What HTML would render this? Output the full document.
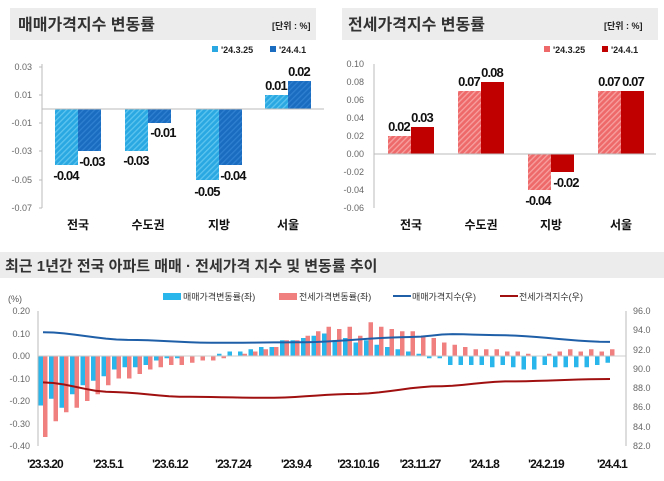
<!DOCTYPE html>
<html><head><meta charset="utf-8"><style>
body{margin:0;background:#fff;width:664px;height:476px;overflow:hidden;font-family:"Liberation Sans","Noto Sans CJK KR",sans-serif}
svg text{font-family:"Liberation Sans","Noto Sans CJK KR",sans-serif}
.v{letter-spacing:-0.9px}
</style></head><body>
<svg id="s" width="664" height="476" xmlns="http://www.w3.org/2000/svg">
<defs>
<pattern id="hb" width="4" height="4" patternUnits="userSpaceOnUse" patternTransform="rotate(45)"><rect width="4" height="4" fill="#29a8e2"/><rect width="1.3" height="4" fill="#5ec4ee"/></pattern>
<pattern id="hd" width="4" height="4" patternUnits="userSpaceOnUse" patternTransform="rotate(45)"><rect width="4" height="4" fill="#1a6cc0"/><rect width="1.3" height="4" fill="#2f80d0"/></pattern>
<pattern id="hr" width="4" height="4" patternUnits="userSpaceOnUse" patternTransform="rotate(45)"><rect width="4" height="4" fill="#ee6a6a"/><rect width="1.3" height="4" fill="#f7a0a0"/></pattern>
</defs>
<rect x="10" y="8" width="306" height="32" fill="#ececec"/>
<text x="18" y="30" font-size="16" font-weight="bold" fill="#333">매매가격지수 변동률</text>
<text x="272" y="29" font-size="9" font-weight="bold" fill="#222">[단위 : %]</text>
<rect x="212" y="46" width="6" height="6" fill="#29a8e2"/><text x="221" y="53" font-size="9" font-weight="bold" fill="#222">'24.3.25</text>
<rect x="270" y="46" width="6" height="6" fill="#1a6cc0"/><text x="279" y="53" font-size="9" font-weight="bold" fill="#222">'24.4.1</text>
<g font-size="9" fill="#666" text-anchor="end">
<text x="32" y="70">0.03</text><text x="32" y="98">0.01</text><text x="32" y="126">-0.01</text><text x="32" y="154">-0.03</text><text x="32" y="183">-0.05</text><text x="32" y="211">-0.07</text></g>
<line x1="42" y1="64" x2="42" y2="208" stroke="#bbb"/>
<g stroke="#bbb"><line x1="39" y1="67" x2="42" y2="67"/><line x1="39" y1="95" x2="42" y2="95"/><line x1="39" y1="123" x2="42" y2="123"/><line x1="39" y1="151" x2="42" y2="151"/><line x1="39" y1="180" x2="42" y2="180"/><line x1="39" y1="208" x2="42" y2="208"/></g>
<rect x="55" y="109" width="23" height="56" fill="url(#hb)"/><rect x="78" y="109" width="23" height="42" fill="url(#hd)"/>
<rect x="125" y="109" width="23" height="42" fill="url(#hb)"/><rect x="148" y="109" width="23" height="14" fill="url(#hd)"/>
<rect x="196" y="109" width="23" height="71" fill="url(#hb)"/><rect x="219" y="109" width="23" height="56" fill="url(#hd)"/>
<rect x="265" y="95" width="23" height="14" fill="url(#hb)"/><rect x="288" y="81" width="23" height="28" fill="url(#hd)"/>
<line x1="42" y1="109" x2="324" y2="109" stroke="#bbb"/>
<g class="v" font-size="13" font-weight="bold" fill="#111" text-anchor="middle">
<text x="66" y="180">-0.04</text><text x="92" y="166">-0.03</text>
<text x="136" y="165">-0.03</text><text x="163" y="137">-0.01</text>
<text x="207" y="196">-0.05</text><text x="233" y="180">-0.04</text>
<text x="276" y="90">0.01</text><text x="299" y="76">0.02</text></g>
<g font-size="12" font-weight="bold" fill="#111" text-anchor="middle">
<text x="78" y="229">전국</text><text x="148" y="229">수도권</text><text x="219" y="229">지방</text><text x="288" y="229">서울</text></g>
<rect x="342" y="8" width="316" height="32" fill="#ececec"/>
<text x="348" y="30" font-size="16" font-weight="bold" fill="#333">전세가격지수 변동률</text>
<text x="604" y="29" font-size="9" font-weight="bold" fill="#222">[단위 : %]</text>
<rect x="544" y="46" width="6" height="6" fill="#ee6a6a"/><text x="553" y="53" font-size="9" font-weight="bold" fill="#222">'24.3.25</text>
<rect x="602" y="46" width="6" height="6" fill="#c00000"/><text x="611" y="53" font-size="9" font-weight="bold" fill="#222">'24.4.1</text>
<g font-size="9" fill="#666" text-anchor="end">
<text x="364" y="67">0.10</text><text x="364" y="85">0.08</text><text x="364" y="103">0.06</text><text x="364" y="121">0.04</text><text x="364" y="139">0.02</text><text x="364" y="157">0.00</text><text x="364" y="175">-0.02</text><text x="364" y="193">-0.04</text><text x="364" y="211">-0.06</text></g>
<line x1="374" y1="64" x2="374" y2="208" stroke="#bbb"/>
<rect x="388" y="136" width="23" height="18" fill="url(#hr)"/><rect x="411" y="127" width="23" height="27" fill="#c00000"/>
<rect x="458" y="91" width="23" height="63" fill="url(#hr)"/><rect x="481" y="82" width="23" height="72" fill="#c00000"/>
<rect x="528" y="154" width="23" height="36" fill="url(#hr)"/><rect x="551" y="154" width="23" height="18" fill="#c00000"/>
<rect x="598" y="91" width="23" height="63" fill="url(#hr)"/><rect x="621" y="91" width="23" height="63" fill="#c00000"/>
<line x1="374" y1="154" x2="656" y2="154" stroke="#bbb"/>
<g class="v" font-size="13" font-weight="bold" fill="#111" text-anchor="middle">
<text x="399" y="131">0.02</text><text x="422" y="122">0.03</text>
<text x="469" y="86">0.07</text><text x="492" y="77">0.08</text>
<text x="538" y="205">-0.04</text><text x="566" y="187">-0.02</text>
<text x="609" y="86">0.07</text><text x="633" y="86">0.07</text></g>
<g font-size="12" font-weight="bold" fill="#111" text-anchor="middle">
<text x="411" y="229">전국</text><text x="481" y="229">수도권</text><text x="551" y="229">지방</text><text x="621" y="229">서울</text></g>
<rect x="0" y="252" width="664" height="26" fill="#ececec"/>
<text x="5" y="271" font-size="15" font-weight="bold" fill="#333">최근 1년간 전국 아파트 매매 · 전세가격 지수 및 변동률 추이</text>
<text x="8" y="302" font-size="9" fill="#555">(%)</text>
<rect x="163" y="293" width="18" height="7" fill="#29b6ea"/><text x="183" y="300" font-size="9" fill="#333">매매가격변동률(좌)</text>
<rect x="279" y="293" width="18" height="7" fill="#f08080"/><text x="299" y="300" font-size="9" fill="#333">전세가격변동률(좌)</text>
<line x1="393" y1="296" x2="411" y2="296" stroke="#1f5fa8" stroke-width="2"/><text x="412" y="300" font-size="9" fill="#333">매매가격지수(우)</text>
<line x1="500" y1="296" x2="518" y2="296" stroke="#a01010" stroke-width="2"/><text x="519" y="300" font-size="9" fill="#333">전세가격지수(우)</text>
<g font-size="9" fill="#666" text-anchor="end">
<text x="30" y="314">0.20</text><text x="30" y="337">0.10</text><text x="30" y="359">0.00</text><text x="30" y="382">-0.10</text><text x="30" y="404">-0.20</text><text x="30" y="427">-0.30</text><text x="30" y="449">-0.40</text></g>
<g font-size="9" fill="#666">
<text x="633" y="314">96.0</text><text x="633" y="333">94.0</text><text x="633" y="353">92.0</text><text x="633" y="372">90.0</text><text x="633" y="391">88.0</text><text x="633" y="410">86.0</text><text x="633" y="430">84.0</text><text x="633" y="449">82.0</text></g>
<line x1="38" y1="311" x2="38" y2="446" stroke="#bbb"/>
<line x1="626" y1="311" x2="626" y2="446" stroke="#bbb"/>
<g id="bars"></g>
<line x1="38" y1="356" x2="626" y2="356" stroke="#ccc"/>
<g id="lines"></g>
<g class="v" font-size="12" font-weight="bold" fill="#111" text-anchor="middle">
<text x="45" y="468">'23.3.20</text><text x="108" y="468">'23.5.1</text><text x="170" y="468">'23.6.12</text><text x="233" y="468">'23.7.24</text><text x="296" y="468">'23.9.4</text><text x="358" y="468">'23.10.16</text><text x="420" y="468">'23.11.27</text><text x="484" y="468">'24.1.8</text><text x="546" y="468">'24.2.19</text><text x="612" y="468">'24.4.1</text></g>
</svg>
<script>
var b=[-0.22,-0.19,-0.23,-0.17,-0.13,-0.11,-0.09,-0.06,-0.05,-0.05,-0.04,-0.02,-0.01,-0.01,0,0,0,0.01,0.02,0.02,0.03,0.04,0.04,0.07,0.07,0.08,0.09,0.10,0.07,0.08,0.06,0.07,0.05,0.04,0.03,0.02,0.01,-0.01,-0.01,-0.04,-0.04,-0.04,-0.04,-0.05,-0.04,-0.05,-0.06,-0.06,-0.04,-0.05,-0.05,-0.05,-0.05,-0.04,-0.03];
var r=[-0.36,-0.29,-0.25,-0.23,-0.20,-0.17,-0.13,-0.10,-0.10,-0.08,-0.06,-0.05,-0.04,-0.04,-0.03,-0.02,-0.02,-0.01,0,0.01,0.02,0.03,0.04,0.07,0.07,0.09,0.11,0.13,0.12,0.13,0.09,0.15,0.13,0.12,0.11,0.11,0.09,0.08,0.06,0.05,0.04,0.03,0.03,0.03,0.02,0.02,0.01,0,0.01,0.02,0.03,0.02,0.03,0.02,0.03];
var ns="http://www.w3.org/2000/svg",g=document.getElementById('bars'),L=document.getElementById('lines');
function X(i){return 43+i*10.5;}
function Y(v){return 356-v*225;}
function R(x,y,w,h,c){var e=document.createElementNS(ns,'rect');e.setAttribute('x',x);e.setAttribute('y',y);e.setAttribute('width',w);e.setAttribute('height',Math.max(h,0.5));e.setAttribute('fill',c);g.appendChild(e);}
for(var i=0;i<55;i++){var x=X(i);
 var v=b[i];R(x-4.5,Math.min(Y(v),356),4.5,Math.abs(v)*225,'#29b6ea');
 v=r[i];R(x,Math.min(Y(v),356),4.5,Math.abs(v)*225,'#f08080');}
function YR(v){return 311+(96-v)*(135/14);}
function sm(pts){var a=[];for(var i=0;i<55;i++){var t=i/54,k=0;while(k<pts.length-2&&pts[k+1][0]<t)k++;var p=pts[k],q=pts[k+1],u=(t-p[0])/(q[0]-p[0]);u=u*u*(3-2*u);a.push(p[1]+(q[1]-p[1])*u);}return a;}
var s=sm([[0,93.8],[0.15,93.0],[0.3,92.7],[0.45,92.75],[0.65,93.3],[0.72,93.6],[0.8,93.5],[1,92.8]]);
var j=sm([[0,88.6],[0.12,87.6],[0.25,87.1],[0.4,87.0],[0.55,87.4],[0.7,88.2],[0.82,88.7],[1,88.95]]);
function P(a,c){var d='';for(var i=0;i<a.length;i++)d+=(i?'L':'M')+X(i).toFixed(1)+' '+YR(a[i]).toFixed(1);var e=document.createElementNS(ns,'path');e.setAttribute('d',d);e.setAttribute('fill','none');e.setAttribute('stroke',c);e.setAttribute('stroke-width','2');L.appendChild(e);}
P(s,'#1f5fa8');P(j,'#a01010');
</script>
</body></html>
